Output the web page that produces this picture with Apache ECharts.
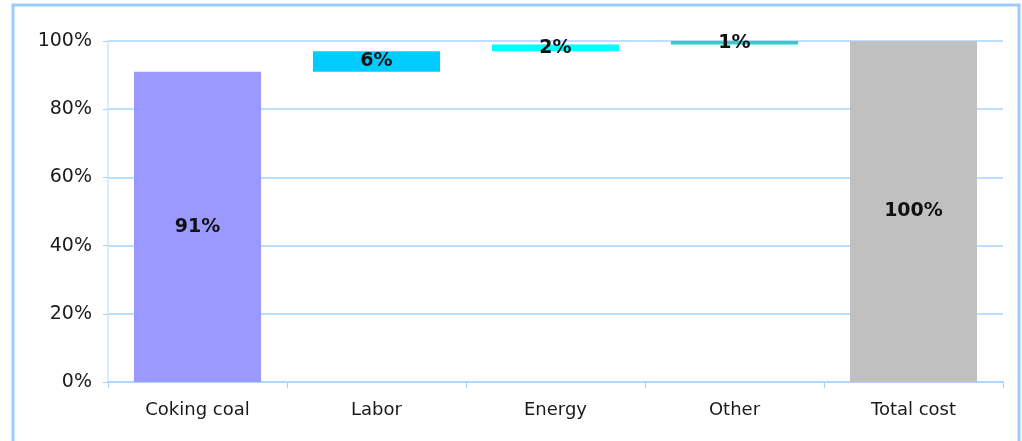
<!DOCTYPE html>
<html>
<head>
<meta charset="utf-8">
<style>
  html, body { margin: 0; padding: 0; background: #ffffff; }
  #chart { width: 1022px; height: 441px; }
</style>
<script src="https://cdn.jsdelivr.net/npm/echarts@6/dist/echarts.min.js"></script>
</head>
<body>
<div id="chart"></div>
<script>
// Cost build-up: each component stacked on top of the previous ones, ending in the total.
const categories = ['Coking coal', 'Labor', 'Energy', 'Other', 'Total cost'];
const shares = [91, 6, 2, 1, 100];
const barColors = ['#9999ff', '#00ccff', '#00ffff', '#33cccc', '#c0c0c0'];
const yTicks = [0, 20, 40, 60, 80, 100];

// Invisible base: running total before each component; the first and last bars start at zero.
const offsets = shares.map((v, i) => {
  if (i === 0 || i === shares.length - 1) return 0;
  return shares.slice(0, i).reduce((a, b) => a + b, 0);
});

const chart = echarts.init(document.getElementById('chart'), null, { renderer: 'canvas' });

const lineBlue = '#a9d3ff';

chart.setOption({
  animation: false,
  backgroundColor: '#ffffff',
  textStyle: { fontFamily: 'DejaVu Sans' },
  graphic: [{
    type: 'rect',
    shape: { x: 13, y: 5, width: 1006, height: 460 },
    style: { fill: 'none', stroke: '#9ccbff', lineWidth: 3 },
    silent: true
  }],
  grid: { left: 108, right: 19, top: 41, bottom: 59, containLabel: false },
  xAxis: {
    type: 'category',
    data: categories,
    boundaryGap: true,
    axisLine: { show: true, lineStyle: { color: lineBlue, width: 1.5 } },
    axisTick: { show: true, alignWithLabel: false, length: 6, lineStyle: { color: lineBlue } },
    axisLabel: { color: '#1a1a1a', fontSize: 18, margin: 19, fontFamily: 'DejaVu Sans' }
  },
  yAxis: {
    type: 'value',
    min: yTicks[0],
    max: yTicks[yTicks.length - 1],
    interval: yTicks[1] - yTicks[0],
    axisLine: { show: true, lineStyle: { color: '#cfe6ff', width: 1.5 } },
    axisTick: { show: true, length: 5, lineStyle: { color: lineBlue } },
    axisLabel: { color: '#1a1a1a', fontSize: 19, margin: 16, formatter: '{value}%', fontFamily: 'DejaVu Sans' },
    splitLine: { show: true, lineStyle: { color: lineBlue, width: 1.5 } }
  },
  series: [
    {
      name: 'base',
      type: 'bar',
      stack: 'cost',
      data: offsets,
      barWidth: '71%',
      itemStyle: { color: 'transparent' },
      silent: true,
      label: { show: false }
    },
    {
      name: 'share',
      type: 'bar',
      stack: 'cost',
      barWidth: '71%',
      data: shares.map((v, i) => ({ value: v, itemStyle: { color: barColors[i] } })),
      label: {
        show: true,
        position: 'inside',
        formatter: p => p.value + '%',
        color: '#111111',
        fontSize: 19,
        fontWeight: 'bold',
        fontFamily: 'DejaVu Sans'
      }
    }
  ]
});
</script>
</body>
</html>
